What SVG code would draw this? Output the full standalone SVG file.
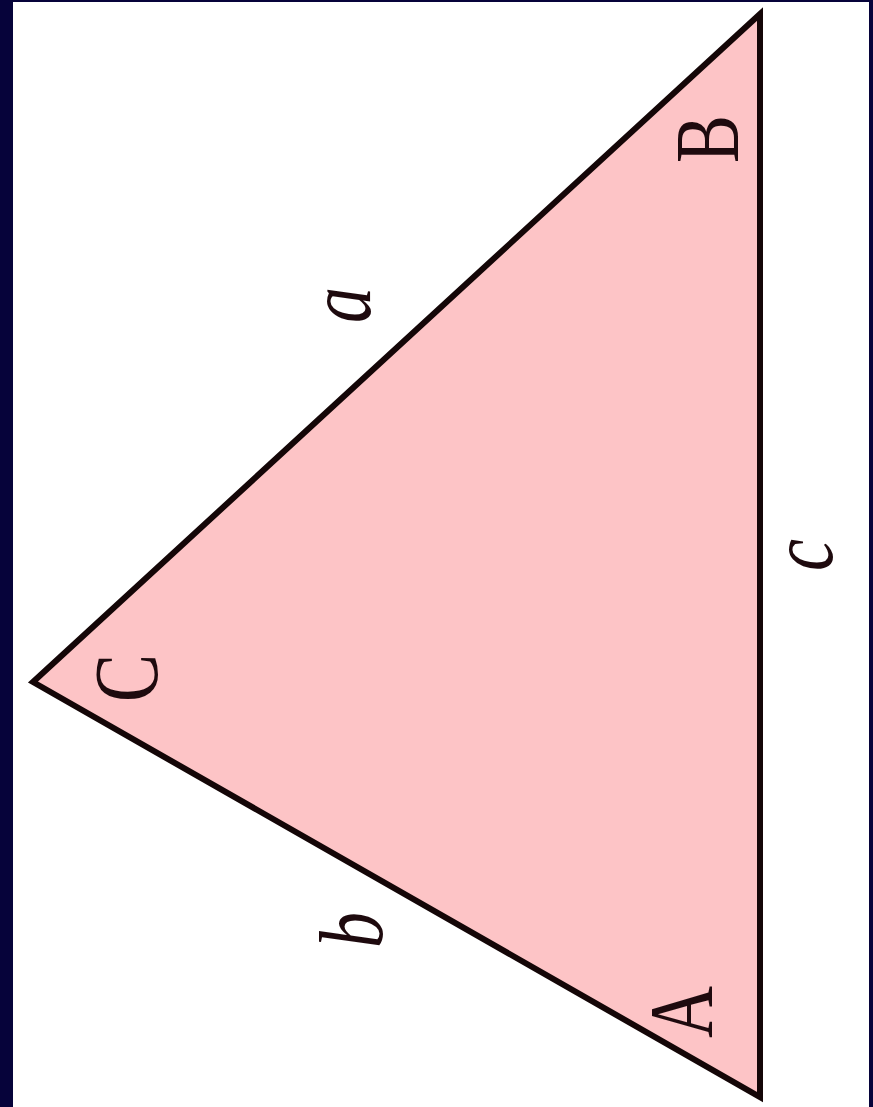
<svg xmlns="http://www.w3.org/2000/svg" width="873" height="1107" viewBox="0 0 873 1107">
<style>
.lbl{font-family:"Liberation Serif","Times New Roman",serif;font-size:90px;fill:#1e0a0e;text-anchor:middle}
.it{font-style:italic}
</style>
<rect x="0" y="0" width="873" height="1107" fill="#06033a"/>
<rect x="13" y="2" width="856" height="1105" fill="#ffffff"/>
<g id="triangle">
<polygon points="760,14 33,682 760,1097" fill="#fdc4c6" stroke="#140607" stroke-width="6" stroke-linejoin="miter"/>
</g>
<g id="labels">
<text class="lbl" transform="translate(738,139) rotate(-90) scale(0.8,1)">B</text>
<text class="lbl" transform="translate(157,678) rotate(-90) scale(0.8,1)">C</text>
<text class="lbl" transform="translate(712,1012) rotate(-90) scale(0.8,1)">A</text>
<text class="lbl it" transform="translate(370,305) rotate(-90) scale(0.8,1)">a</text>
<text class="lbl it" transform="translate(382,930) rotate(-90) scale(0.8,1)">b</text>
<text class="lbl it" transform="translate(832,555) rotate(-90) scale(0.8,1)">c</text>
</g>
</svg>
